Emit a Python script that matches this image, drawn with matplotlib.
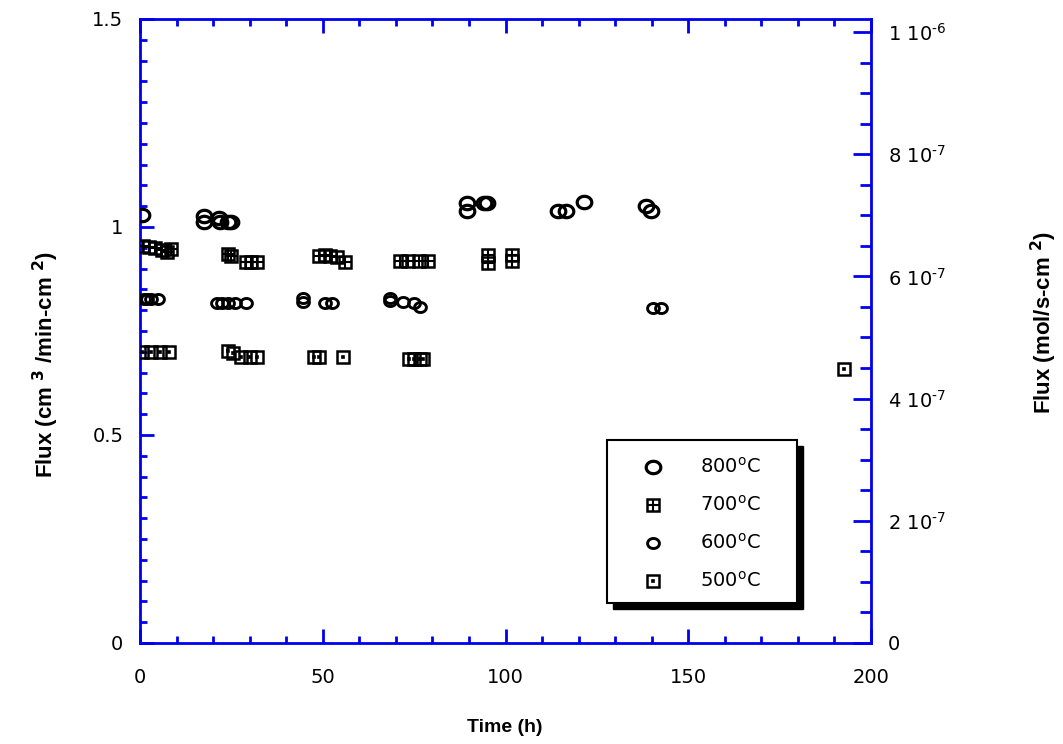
import matplotlib
matplotlib.use("Agg")
import matplotlib.pyplot as plt
import numpy as np
from matplotlib.path import Path
from matplotlib.patches import Rectangle
from matplotlib.ticker import MultipleLocator, FixedLocator, FixedFormatter

# ---------------- data ----------------
t800 = [0.5, 17.5, 17.5, 21.5, 22, 24, 25, 89.6, 89.6, 94, 95, 114.5, 116.5, 121.4, 138.4, 139.7]
f800 = [1.029, 1.026, 1.012, 1.022, 1.012, 1.012, 1.012, 1.058, 1.038, 1.058, 1.058, 1.038, 1.038, 1.060, 1.050, 1.038]

t700 = [0.8, 2.5, 4, 6, 7.5, 8.5, 24, 25, 29, 30.5, 32, 49, 50.5, 52, 54, 56,
        71.2, 73.4, 76.2, 78.9, 95.3, 95.3, 101.9, 101.9]
f700 = [0.955, 0.953, 0.950, 0.945, 0.940, 0.948, 0.935, 0.930, 0.915, 0.915, 0.915,
        0.930, 0.932, 0.930, 0.928, 0.915, 0.918, 0.918, 0.918, 0.918, 0.933, 0.913, 0.933, 0.918]

t600 = [1, 2, 3, 5, 21, 22.5, 24, 26, 29, 44.7, 44.7, 50.5, 52.5, 68.5, 68.5, 72, 75, 76.5, 140.3, 142.5]
f600 = [0.827, 0.827, 0.827, 0.827, 0.817, 0.817, 0.817, 0.817, 0.817, 0.830, 0.820,
        0.818, 0.818, 0.830, 0.822, 0.820, 0.818, 0.808, 0.806, 0.806]

t500 = [0.5, 3, 5.5, 8, 24, 25.5, 27.5, 30, 32, 47.5, 49, 55.5, 73.5, 75, 76.5, 77.5, 192.6]
f500 = [0.700, 0.700, 0.700, 0.700, 0.703, 0.698, 0.688, 0.688, 0.688, 0.688, 0.688,
        0.688, 0.683, 0.683, 0.683, 0.683, 0.659]

legend_labels = ["800$^{\\mathrm{o}}$C", "700$^{\\mathrm{o}}$C", "600$^{\\mathrm{o}}$C", "500$^{\\mathrm{o}}$C"]

xticks = [0, 50, 100, 150, 200]
yticks_left = [0, 0.5, 1, 1.5]
yticklabels_left = ["0", "0.5", "1", "1.5"]
yticks_right = [0, 2e-7, 4e-7, 6e-7, 8e-7, 1e-6]
yticklabels_right = ["0", "2 10$^{\\text{-}7}$", "4 10$^{\\text{-}7}$",
                     "6 10$^{\\text{-}7}$", "8 10$^{\\text{-}7}$", "1 10$^{\\text{-}6}$"]

# ---------------- figure ----------------
W, H = 1063, 744
fig = plt.figure(figsize=(W / 100, H / 100), dpi=100)
plt.rcParams['font.family'] = ['DejaVu Sans']
plt.rcParams['mathtext.default'] = 'regular'

L, R, T, B = 140, 871, 19, 643
ax = fig.add_axes([L / W, 1 - B / H, (R - L) / W, (B - T) / H])
ax.set_xlim(0, 200)
ax.set_ylim(0, 1.5)

blue = '#0000ee'
for s in ax.spines.values():
    s.set_color(blue)
    s.set_linewidth(2)
ax.spines['right'].set_visible(False)

# ellipse marker
th = np.linspace(0, 2 * np.pi, 60)
ell = Path(np.column_stack([np.cos(th), 0.85 * np.sin(th)]), closed=True)

mk = dict(linestyle='none', color='k', markerfacecolor='none', zorder=3)
ax.plot(t800, f800, marker=ell, markersize=10.5, markeredgewidth=2.3, **mk)
ax.plot(t700, f700, marker='s', markersize=8.5, markeredgewidth=1.8, **mk)
ax.plot(t700, f700, marker='+', markersize=8.5, markeredgewidth=1.5, **mk)
ax.plot(t600, f600, marker=ell, markersize=8.5, markeredgewidth=2.1, **mk)
ax.plot(t500, f500, marker='s', markersize=8.5, markeredgewidth=1.8, **mk)
ax.plot(t500, f500, marker='s', markersize=2, markeredgewidth=1.2,
        linestyle='none', color='k', markerfacecolor='k', zorder=3)

ax.xaxis.set_major_locator(FixedLocator(xticks))
ax.xaxis.set_minor_locator(MultipleLocator(10))
ax.yaxis.set_major_locator(FixedLocator(yticks_left))
ax.yaxis.set_major_formatter(FixedFormatter(yticklabels_left))
ax.yaxis.set_minor_locator(MultipleLocator(0.05))
ax.tick_params(axis='both', which='both', direction='in', color=blue, width=2,
               labelsize=14, top=True, right=False)
ax.tick_params(axis='both', which='major', length=10, pad=12)
ax.tick_params(axis='both', which='minor', length=5)
ax.tick_params(axis='x', which='major', pad=18)

ax2 = ax.twinx()
ax2.set_ylim(0, 1e-6 * (B - T) / (B - 32))
ax2.spines['right'].set_color(blue)
ax2.spines['right'].set_linewidth(2)
for k in ['left', 'top', 'bottom']:
    ax2.spines[k].set_visible(False)
ax2.yaxis.set_major_locator(FixedLocator(yticks_right))
ax2.yaxis.set_major_formatter(FixedFormatter(yticklabels_right))
ax2.yaxis.set_minor_locator(MultipleLocator(5e-8))
ax2.tick_params(axis='y', which='both', direction='in', color=blue, width=2, labelsize=14)
ax2.tick_params(axis='y', which='major', length=13, pad=12)
ax2.tick_params(axis='y', which='minor', length=8)

# axis labels
lab_kw = dict(ha='center', va='center', fontweight='bold', family='Liberation Sans')
fig.text(505 / W, 1 - 727 / H, "Time (h)", fontsize=14, **lab_kw)
fig.text(46 / W, 1 - 365 / H, "Flux (cm $^{\\mathbf{3}}$ /min-cm $^{\\mathbf{2}}$)",
         rotation=90, fontsize=16, **lab_kw)
fig.text(1044 / W, 1 - 322 / H, "Flux (mol/s-cm $^{\\mathbf{2}}$)",
         rotation=90, fontsize=16, **lab_kw)

# legend (manual box with black shadow)
bx0, bx1, by0, by1 = 607, 797, 440, 603
sh = 6
fig.patches.append(Rectangle(((bx0 + sh) / W, 1 - (by1 + sh) / H), (bx1 - bx0) / W,
                             (by1 - by0) / H, transform=fig.transFigure,
                             facecolor='k', edgecolor='k', zorder=5))
fig.patches.append(Rectangle((bx0 / W, 1 - by1 / H), (bx1 - bx0) / W, (by1 - by0) / H,
                             transform=fig.transFigure, facecolor='white',
                             edgecolor='k', linewidth=1.5, zorder=6))
rows = [467, 505, 543, 581]
mx = 653
specs = [
    [dict(marker=ell, markersize=10.5, markeredgewidth=2.3, markerfacecolor='none')],
    [dict(marker='s', markersize=8.5, markeredgewidth=1.8, markerfacecolor='none'),
     dict(marker='+', markersize=8.5, markeredgewidth=1.5)],
    [dict(marker=ell, markersize=8.5, markeredgewidth=2.1, markerfacecolor='none')],
    [dict(marker='s', markersize=8.5, markeredgewidth=1.8, markerfacecolor='none'),
     dict(marker='s', markersize=2, markeredgewidth=1.2, markerfacecolor='k')],
]
for yy, lab, sp in zip(rows, legend_labels, specs):
    for s in sp:
        l = plt.Line2D([mx / W], [1 - yy / H], transform=fig.transFigure, color='k',
                       linestyle='none', zorder=7, **s)
        fig.lines.append(l)
    fig.text(700 / W, 1 - yy / H, lab, ha='left', va='center', fontsize=14, zorder=7)

fig.savefig("out.png", dpi=100)
